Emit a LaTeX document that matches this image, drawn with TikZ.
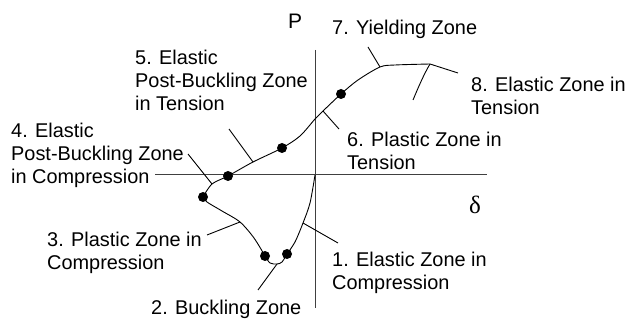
\documentclass[tikz,border=0pt]{standalone}
\usepackage{fontspec}
\setmainfont{Liberation Sans}
\newfontfamily\greekfont{Liberation Serif}
\usepackage{tikz}

\begin{document}
\begin{tikzpicture}[x=1pt, y=-1pt,
            zonelabel/.style={anchor=north west, inner sep=0pt, align=left, font=\fontsize{19.9}{22.8}\selectfont},
            zonedot/.style={circle, fill=black, inner sep=0pt, minimum size=10pt},
            leaderline/.style={line width=0.9pt},
            curveline/.style={line width=0.9pt},
            axisline/.style={line width=1pt, black!75}]
            \useasboundingbox (0,0) rectangle (626,320);

            % Axes - P and delta
            \coordinate (xl) at (155,175);
            \coordinate (xr) at (487,175);
            \coordinate (yt) at (315,50);
            \coordinate (yb) at (315,308);
            \coordinate (o) at (315,175);
            \draw[axisline] (xl) -- (xr);
            \draw[axisline] (yt) -- (yb);
            \node[anchor=north west, inner sep=0pt, font=\fontsize{21}{24}\selectfont] (P) at (288,14) {P};
            \node[anchor=north west, inner sep=0pt, font=\greekfont\fontsize{25}{28}\selectfont] (delta) at (469,196) {δ};

            % Zone boundaries
            \node[zonedot] (d1) at (287,254) {};
            \node[zonedot] (d2) at (265,256) {};
            \node[zonedot] (d3) at (203,197) {};
            \node[zonedot] (d4) at (228,176) {};
            \node[zonedot] (d5) at (282,148) {};
            \node[zonedot] (d6) at (341,94) {};
            \coordinate (ye) at (430,64);
            \coordinate (ue) at (413,100);

            % Points on the curve where the leaders start
            \coordinate (c1) at (303,223);
            \coordinate (c2) at (277,264);
            \coordinate (c3) at (240,222);
            \coordinate (c4) at (212,184);
            \coordinate (c5) at (253,162);
            \coordinate (c6) at (323,111);
            \coordinate (c7) at (380,67);

            % Load - displacement curve
            \draw[curveline] plot[smooth] coordinates {(o) (310,203) (c1) (295,242) (d1.center)};
            \draw[curveline] plot[smooth] coordinates {(d1.center) (282,262) (c2) (270,263) (d2.center)};
            \draw[curveline] plot[smooth] coordinates {(d2.center) (254,238) (c3) (222,211) (207,202) (d3.center)};
            \draw[curveline] plot[smooth] coordinates {(d3.center) (c4) (d4.center) (c5) (d5.center) (300,136) (315,119) (c6) (d6.center) (358,80) (c7) (395,65) (ye)};
            \draw[curveline] (ye) .. controls (424,74) and (418,88) .. (ue);

            % Zone labels
            \node[zonelabel] (l1) at (332,252) {1. Elastic Zone in\\Compression};
            \node[zonelabel] (l2) at (151,300) {2. Buckling Zone};
            \node[zonelabel] (l3) at (47,232) {3. Plastic Zone in\\Compression};
            \node[zonelabel] (l4) at (11,123) {4. Elastic\\Post-Buckling Zone\\in Compression};
            \node[zonelabel] (l5) at (135,50) {5. Elastic\\Post-Buckling Zone\\in Tension};
            \node[zonelabel] (l6) at (347,132) {6. Plastic Zone in\\Tension};
            \node[zonelabel] (l7) at (332,20) {7. Yielding Zone};
            \node[zonelabel] (l8) at (471,77) {8. Elastic Zone in\\Tension};

            % Leaders
            \coordinate (e1) at (338,243);
            \coordinate (e2) at (258,290);
            \coordinate (e3) at (207,235);
            \coordinate (e4) at (188,154);
            \coordinate (e5) at (229,129);
            \coordinate (e6) at (339,129);
            \coordinate (e7) at (368,47);
            \coordinate (e8) at (458,73);
            \draw[leaderline] (c1) -- (e1);
            \draw[leaderline] (c2) -- (e2);
            \draw[leaderline] (c3) -- (e3);
            \draw[leaderline] (c4) -- (e4);
            \draw[leaderline] (c5) -- (e5);
            \draw[leaderline] (c6) -- (e6);
            \draw[leaderline] (c7) -- (e7);
            \draw[leaderline] (ye) -- (e8);
        \end{tikzpicture}
\end{document}
